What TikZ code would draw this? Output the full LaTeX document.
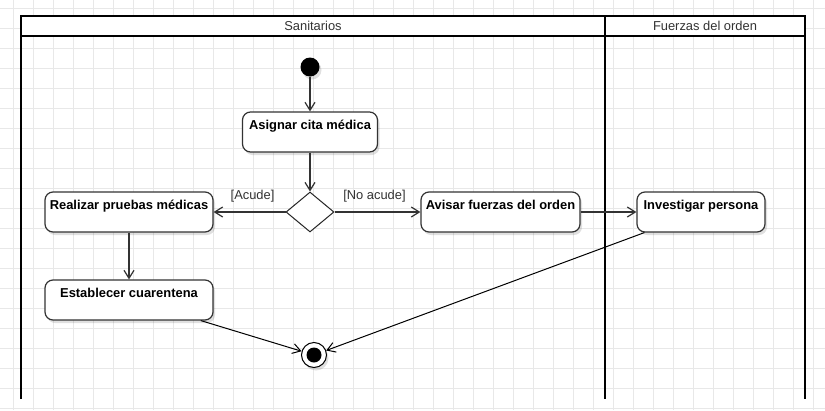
\documentclass[tikz,border=0pt]{standalone}
\usepackage{fontspec}
\setmainfont{Liberation Sans}
\usetikzlibrary{shapes.geometric,arrows.meta,shadows}

\tikzstyle{gridline} = [draw=black!9, line width=0.8pt]
\tikzstyle{lane} = [draw=black, line width=2.6pt]
\tikzstyle{lanehead} = [text=black!80, inner sep=0pt]
\tikzstyle{activity} = [draw=black!80, line width=1.2pt, fill=white, rounded corners=8pt, align=center, minimum height=40pt, inner sep=0pt, font=\fontsize{12.9}{15}\selectfont\bfseries, drop shadow={shadow xshift=2pt, shadow yshift=-3pt, opacity=0.12, fill=black}]
\tikzstyle{decision} = [diamond, draw=black!85, line width=1pt, fill=white, minimum width=48pt, minimum height=40pt, inner sep=0pt]
\tikzstyle{startdot} = [circle, fill=black, minimum size=19pt, inner sep=0pt, drop shadow={shadow xshift=2pt, shadow yshift=-3pt, opacity=0.12, fill=black}]
\tikzstyle{enddot} = [circle, draw=black, line width=1pt, fill=white, minimum size=25pt, inner sep=0pt, path picture={\fill[black] (path picture bounding box.center) circle (7.5pt);}, drop shadow={shadow xshift=2pt, shadow yshift=-3pt, opacity=0.12, fill=black}]
\tikzstyle{flow} = [->, draw=black!80, line width=1.2pt]
\tikzstyle{guard} = [text=black!80, inner sep=0pt]

\begin{document}
\begin{tikzpicture}[x=1pt, y=-1pt, font=\fontsize{12.9}{15}\selectfont, >={Straight Barb[length=8pt,width=10pt]}]
  \useasboundingbox (0,0) rectangle (825,410);
  \fill[white] (0,0) rectangle (825,410);
  \foreach \x in {13,33,...,813} \draw[gridline] (\x,0) -- (\x,410);
  \foreach \y in {8,28,...,408} \draw[gridline] (0,\y) -- (825,\y);

  % swimlanes
  \fill[white] (21,16) rectangle (805,36);
  \draw[lane] (21,399) -- (21,16) -- (805,16) -- (805,399);
  \draw[lane] (605,16) -- (605,399);
  \draw[lane] (21,36) -- (805,36);
  \node[lanehead] (sanitarios) at (313,26) {Sanitarios};
  \node[lanehead] (fuerzas) at (705,26) {Fuerzas del orden};

  % activities
  \node[startdot] (start) at (310,67) {};
  \node[activity, minimum width=135pt] (asignar) at (310,132) {Asignar cita médica\\ \null};
  \node[decision] (decision) at (310,212) {};
  \node[activity, minimum width=168pt] (realizar) at (129,212) {Realizar pruebas médicas\\ \null};
  \node[activity, minimum width=159pt] (avisar) at (500.5,212) {Avisar fuerzas del orden\\ \null};
  \node[activity, minimum width=128pt] (investigar) at (701,212) {Investigar persona\\ \null};
  \node[activity, minimum width=168pt] (establecer) at (129,300) {Establecer cuarentena\\ \null};
  \node[enddot] (end) at (314,355) {};

  \draw[flow] (start) -- (asignar);
  \draw[flow] (asignar) -- (decision);
  \draw[flow] (decision) -- node[guard, above=9pt, xshift=3pt] {[Acude]} (realizar);
  \draw[flow] (decision) -- node[guard, above=9pt, xshift=-3pt] {[No acude]} (avisar);
  \draw[flow] (avisar) -- (investigar);
  \draw[flow] (realizar) -- (establecer);
  \draw[flow, draw=black, line width=1pt] (establecer.-16) -- (end);
  \draw[flow, draw=black, line width=1pt] (investigar.200) -- (end);

\end{tikzpicture}
\end{document}
